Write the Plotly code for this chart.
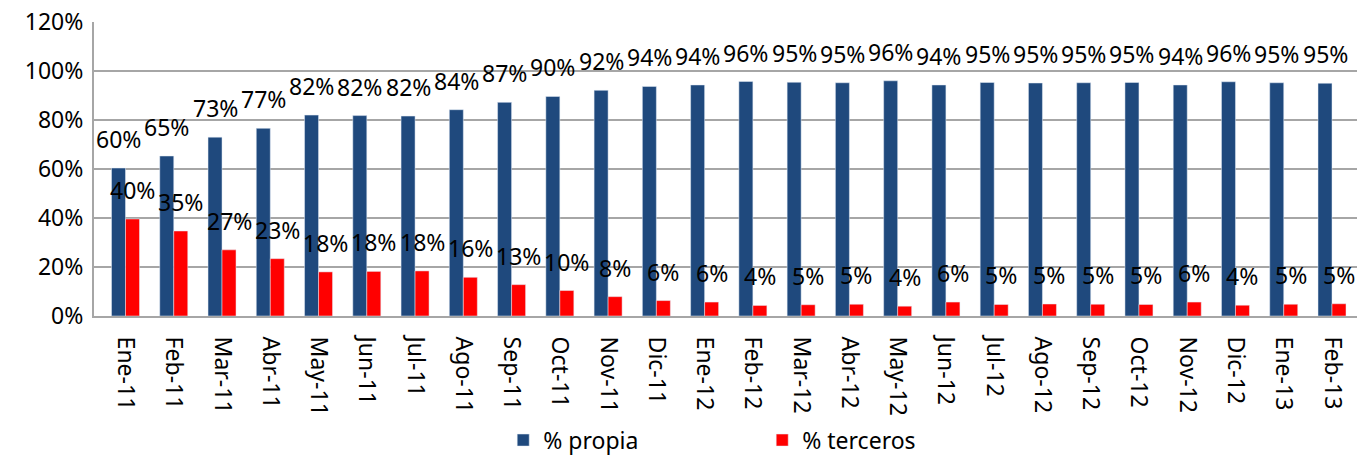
import plotly.graph_objects as go

months = [
    "Ene-11", "Feb-11", "Mar-11", "Abr-11", "May-11", "Jun-11", "Jul-11",
    "Ago-11", "Sep-11", "Oct-11", "Nov-11", "Dic-11", "Ene-12", "Feb-12",
    "Mar-12", "Abr-12", "May-12", "Jun-12", "Jul-12", "Ago-12", "Sep-12",
    "Oct-12", "Nov-12", "Dic-12", "Ene-13", "Feb-13",
]

propia = [
    60.4, 65.3, 73.0, 76.6, 82.0, 81.8, 81.6, 84.2, 87.2, 89.6, 92.1, 93.7, 94.3,
    95.7, 95.4, 95.2, 96.0, 94.3, 95.3, 95.1, 95.2, 95.3, 94.3, 95.6, 95.2, 95.0,
]

terceros = [
    39.6, 34.7, 27.0, 23.4, 18.0, 18.2, 18.4, 15.8, 12.8, 10.4, 7.9, 6.3, 5.7,
    4.3, 4.6, 4.8, 4.0, 5.7, 4.7, 4.9, 4.8, 4.7, 5.7, 4.4, 4.8, 5.0,
]

BLUE = "#1F497D"
RED = "#FF0000"
GRID = "#A6A6A6"
FONT = "Noto Sans"

fig = go.Figure()
fig.add_trace(go.Bar(x=months, y=propia, name="% propia", marker_color=BLUE))
fig.add_trace(go.Bar(x=months, y=terceros, name="% terceros", marker_color=RED))

# data labels sit a little above each bar, like the Excel original
annotations = []
for m, p, t in zip(months, propia, terceros):
    for val, shift in ((p, -7), (t, 7)):
        annotations.append(dict(
            x=m, y=val, xref="x", yref="y",
            text=f"{round(val)}%", showarrow=False,
            xshift=shift, yshift=11, yanchor="bottom",
            font=dict(family=FONT, size=23, color="#000000"),
        ))

fig.update_layout(
    width=1360,
    height=455,
    margin=dict(l=94, r=3, t=22, b=139),
    paper_bgcolor="white",
    plot_bgcolor="white",
    barmode="group",
    bargap=0.42,
    bargroupgap=0,
    font=dict(family=FONT, size=23, color="#000000"),
    annotations=annotations,
    legend=dict(
        orientation="h",
        xref="paper", x=0.324, xanchor="left",
        yref="container", y=0.08, yanchor="top",
        entrywidth=214,
        font=dict(family=FONT, size=23),
    ),
    xaxis=dict(
        automargin=False,
        tickangle=90,
        showline=True,
        linecolor=GRID,
        linewidth=2,
        ticks="",
        ticklabelstandoff=14,
        tickfont=dict(family=FONT, size=23),
    ),
    yaxis=dict(
        automargin=False,
        range=[0, 120],
        dtick=20,
        ticksuffix="%",
        showgrid=True,
        gridcolor=GRID,
        gridwidth=2,
        showline=True,
        linecolor=GRID,
        linewidth=2,
        zeroline=False,
        ticks="",
        ticklabelstandoff=4,
        tickfont=dict(family=FONT, size=23),
    ),
)

# drop the default page margin so the figure fills the window exactly
fig.write_html(
    "out.html",
    config={"displayModeBar": False},
    post_script="document.body.style.margin = '0';",
)
